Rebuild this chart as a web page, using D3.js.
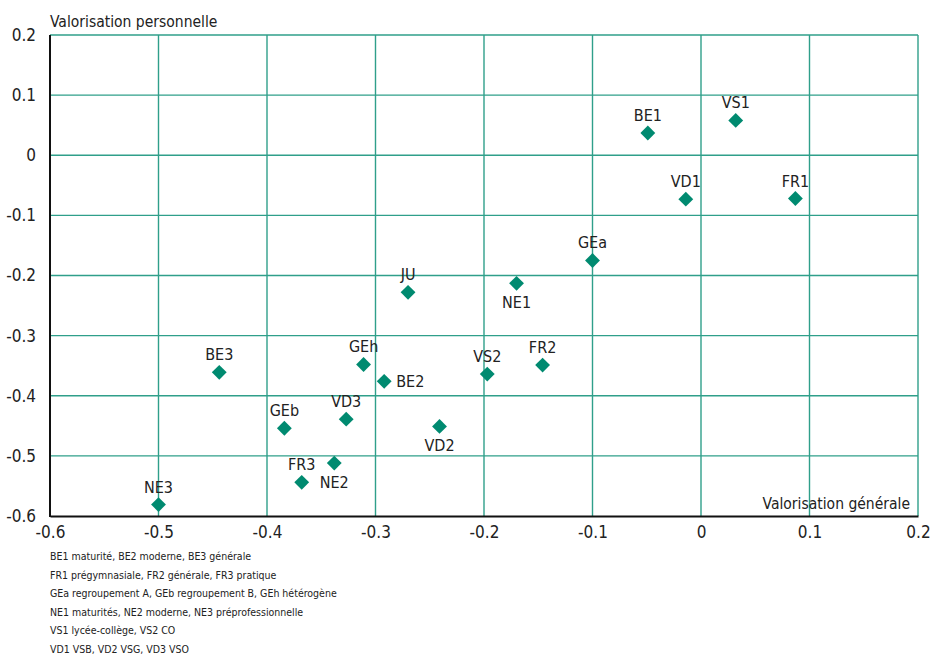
<!DOCTYPE html>
<html>
<head>
<meta charset="utf-8">
<script src="https://cdn.jsdelivr.net/npm/d3@7"></script>
<style>
body{margin:0;background:#fff;}
text{font-family:"DejaVu Sans Condensed","DejaVu Sans",sans-serif;font-stretch:condensed;fill:#222;}
</style>
</head>
<body>
<script>
// donnees
var labels = ["BE1","VS1","VD1","FR1","GEa","NE1","JU","BE3","GEh","BE2","VS2","FR2","GEb","VD3","VD2","NE2","FR3","NE3"];
var xVals = [-0.049,0.032,-0.014,0.087,-0.100,-0.170,-0.270,-0.444,-0.311,-0.292,-0.197,-0.146,-0.384,-0.327,-0.241,-0.338,-0.368,-0.500];
var yVals = [0.037,0.058,-0.073,-0.072,-0.175,-0.213,-0.228,-0.361,-0.348,-0.376,-0.364,-0.349,-0.454,-0.439,-0.451,-0.512,-0.544,-0.581];
// position du libelle: a=dessus, b=dessous, r=droite
var labelPos = ["a","a","a","a","a","b","a","a","a","r","a","a","a","a","b","b","a","a"];
var xTicks = [-0.6,-0.5,-0.4,-0.3,-0.2,-0.1,0,0.1,0.2];
var yTicks = [0.2,0.1,0,-0.1,-0.2,-0.3,-0.4,-0.5,-0.6];
var notes = ["BE1 maturité, BE2 moderne, BE3 générale",
  "FR1 prégymnasiale, FR2 générale, FR3 pratique",
  "GEa regroupement A, GEb regroupement B, GEh hétérogène",
  "NE1 maturités, NE2 moderne, NE3 préprofessionnelle",
  "VS1 lycée-collège, VS2 CO",
  "VD1 VSB, VD2 VSG, VD3 VSO"];

var width = 932, height = 657;
var pLeft = 50, pRight = 918, pTop = 35, pBottom = 516;
var teal = "#2f9f8a", mark = "#008a70";

var svg = d3.select("body").append("svg").attr("width", width).attr("height", height);

var xScale = d3.scaleLinear().domain([-0.6,0.2]).range([pLeft,pRight]);
var yScale = d3.scaleLinear().domain([-0.6,0.2]).range([pBottom,pTop]);

// grille
svg.append("g").selectAll("line").data(xTicks.slice(1)).enter().append("line")
  .attr("x1", d => xScale(d)).attr("x2", d => xScale(d))
  .attr("y1", pTop).attr("y2", pBottom)
  .attr("stroke", teal).attr("stroke-width", 1.4);
svg.append("g").selectAll("line").data(yTicks.slice(0,-1)).enter().append("line")
  .attr("x1", pLeft).attr("x2", pRight)
  .attr("y1", d => yScale(d)).attr("y2", d => yScale(d))
  .attr("stroke", teal).attr("stroke-width", 1.4);

// axes
var fmt = d => d === 0 ? "0" : d3.format(".1f")(d).replace("\u2212","-");
var xAxis = d3.axisBottom(xScale).tickValues(xTicks).tickSize(0).tickPadding(6).tickFormat(fmt);
var yAxis = d3.axisLeft(yScale).tickValues(yTicks).tickSize(0).tickPadding(14).tickFormat(fmt);
var gx = svg.append("g").attr("transform","translate(0,"+pBottom+")").call(xAxis);
var gy = svg.append("g").attr("transform","translate("+pLeft+",0)").call(yAxis);
[gx,gy].forEach(function(g){
  g.select(".domain").attr("stroke","#111").attr("stroke-width",2);
  g.selectAll("text").attr("font-size",17).attr("fill","#222");
  g.attr("font-family",null);
});
gx.selectAll("text").attr("dy","0.95em");
gy.select(".domain").attr("d","M0,"+pTop+"V"+(pBottom+1));

// titres axes
svg.append("text").attr("x",50).attr("y",27).attr("font-size",15.5).text("Valorisation personnelle");
svg.append("text").attr("x",910).attr("y",509).attr("text-anchor","end").attr("font-size",15.5).text("Valorisation générale");

// points
var idx = d3.range(labels.length);
svg.append("g").selectAll("path").data(idx).enter().append("path")
  .attr("d", d3.symbol().type(d3.symbolSquare).size(110))
  .attr("transform", i => "translate("+xScale(xVals[i])+","+yScale(yVals[i])+") rotate(45)")
  .attr("fill", mark);

svg.append("g").selectAll("text").data(idx).enter().append("text")
  .attr("x", i => xScale(xVals[i]) + (labelPos[i]==="r" ? 12 : 0))
  .attr("y", i => yScale(yVals[i]) + (labelPos[i]==="a" ? -12 : labelPos[i]==="b" ? 25 : 6))
  .attr("text-anchor", i => labelPos[i]==="r" ? "start" : "middle")
  .attr("font-size",16)
  .text(i => labels[i]);

// notes
svg.append("g").selectAll("text").data(notes).enter().append("text")
  .attr("x",50).attr("y",(d,i) => 560 + i*18.6)
  .attr("font-size",10.5).attr("fill","#333")
  .text(d => d);
</script>
</body>
</html>
